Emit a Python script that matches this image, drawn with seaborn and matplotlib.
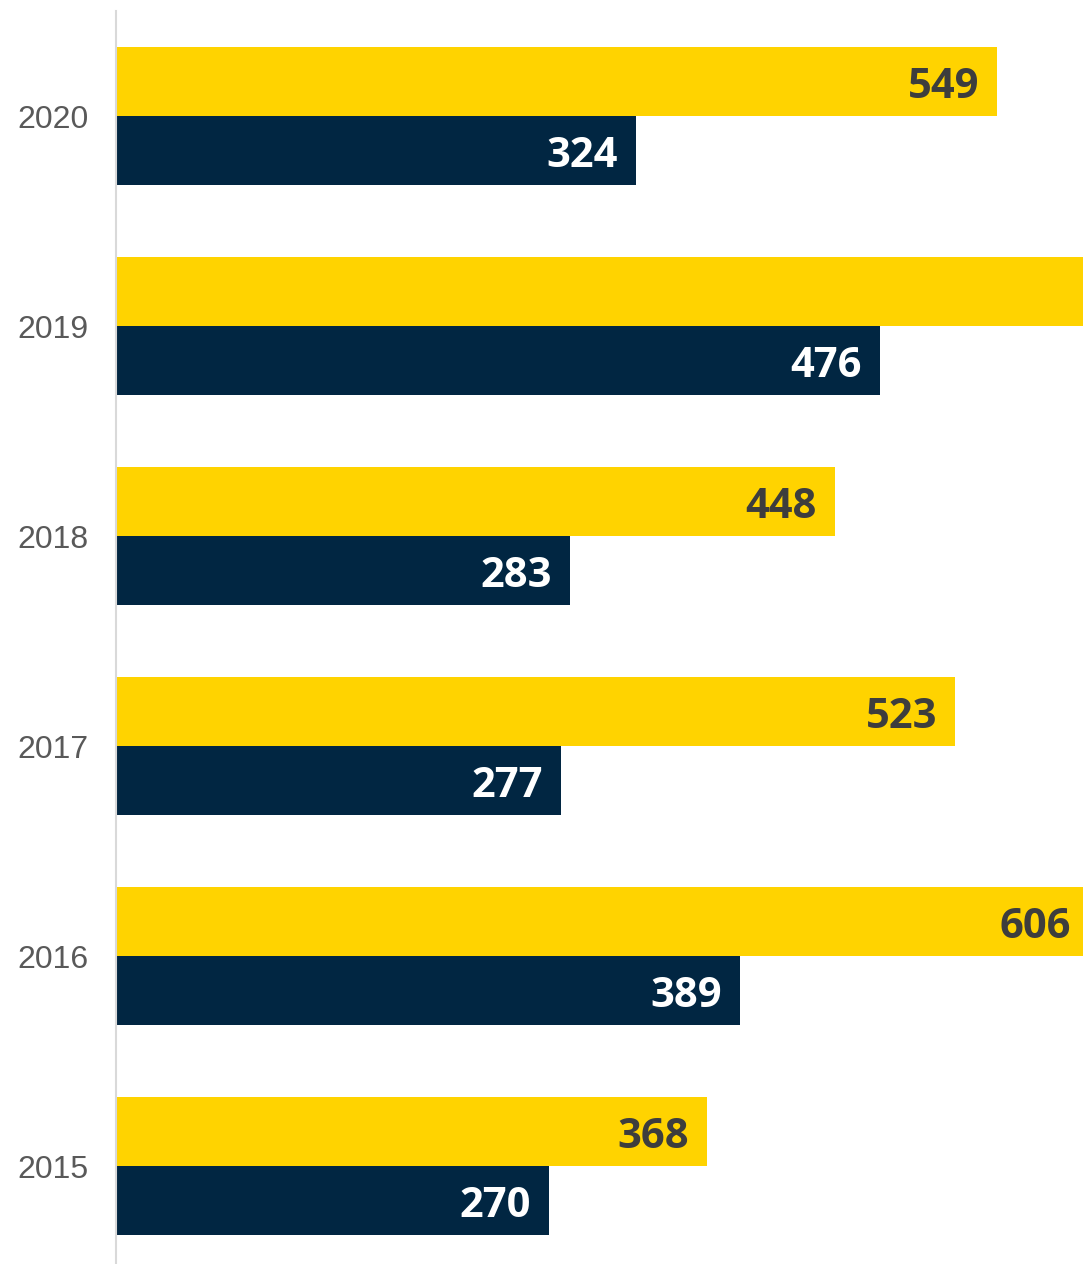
import matplotlib
matplotlib.use("Agg")
import matplotlib.pyplot as plt
import seaborn as sns
import pandas as pd

years = ["2020", "2019", "2018", "2017", "2016", "2015"]
series_a = [549, 690, 448, 523, 606, 368]   # yellow (2019 runs off the chart)
series_b = [324, 476, 283, 277, 389, 270]   # navy
series_names = ["A", "B"]

df = pd.DataFrame({
    "year": years * 2,
    "value": series_a + series_b,
    "series": [series_names[0]] * len(years) + [series_names[1]] * len(years),
})

YELLOW = "#FFD300"
NAVY = "#012642"

sns.set_theme(style="white")
plt.rcParams["font.family"] = ["Liberation Sans", "DejaVu Sans"]

W, H = 1083, 1264
fig = plt.figure(figsize=(W / 100, H / 100), dpi=100)
ax = fig.add_axes([116 / W, (H - 1271) / H, 967 / W, 1260 / H])

sns.barplot(data=df, y="year", x="value", hue="series", order=years,
            hue_order=series_names, palette=[YELLOW, NAVY], orient="h",
            width=0.657, gap=0, saturation=1, legend=False, ax=ax,
            linewidth=0)

XMAX = 602.5
ax.set_xlim(0, XMAX)
ax.set_ylim(5.5, -0.5)
ax.set_xlabel("")
ax.set_ylabel("")
ax.set_xticks([])

for s in ["top", "right", "bottom"]:
    ax.spines[s].set_visible(False)
ax.spines["left"].set_color("#d9d9d9")
ax.spines["left"].set_linewidth(1.5)
ax.spines["left"].set_zorder(5)

ax.tick_params(axis="y", length=0, pad=20, labelsize=23, labelcolor="#595959")

label_colors = ["#3d3d3d", "white"]
for container, col in zip(ax.containers, label_colors):
    for patch in container:
        w = patch.get_width()
        if w > XMAX * 1.05:
            continue  # label falls outside the visible canvas
        yc = patch.get_y() + patch.get_height() / 2
        ax.annotate(f"{int(round(w))}", xy=(w, yc), xytext=(-13, -4.5),
                    textcoords="offset points", ha="right", va="center",
                    fontsize=30, fontweight="bold", color=col,
                    family=["Open Sans", "DejaVu Sans"],
                    annotation_clip=False, clip_on=False)

fig.savefig("out.png", dpi=100, facecolor="white")
